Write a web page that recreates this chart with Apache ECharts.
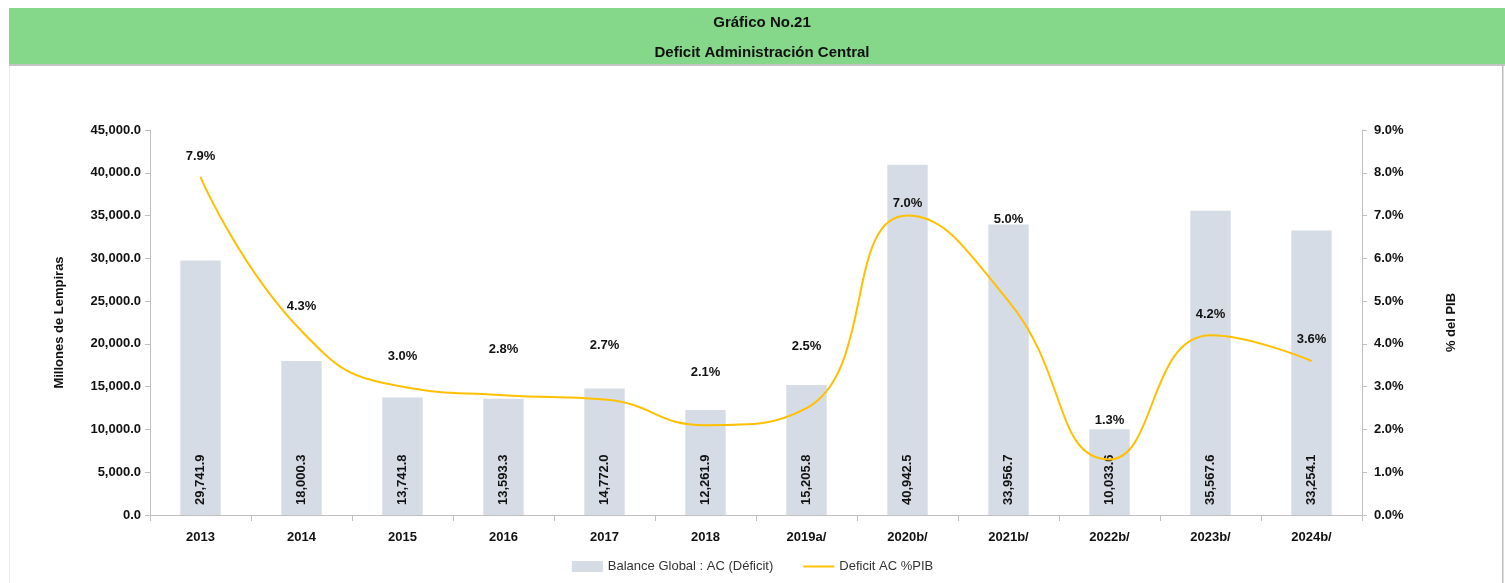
<!DOCTYPE html>
<html>
<head>
<meta charset="utf-8">
<script src="https://cdn.jsdelivr.net/npm/echarts@6/dist/echarts.min.js"></script>
<style>
  html, body { margin: 0; padding: 0; background: #fff; }
  #chart { width: 1505px; height: 583px; }
</style>
</head>
<body>
<div id="chart"></div>
<script>
// categorias (años)
const years = ['2013', '2014', '2015', '2016', '2017', '2018', '2019a/', '2020b/', '2021b/', '2022b/', '2023b/', '2024b/'];
// Balance Global : AC (Déficit), millones de lempiras
const balance = [29741.9, 18000.3, 13741.8, 13593.3, 14772.0, 12261.9, 15205.8, 40942.5, 33956.7, 10033.6, 35567.6, 33254.1];
// Deficit AC %PIB
const pctPib = [7.9, 4.3, 3.0, 2.8, 2.7, 2.1, 2.5, 7.0, 5.0, 1.3, 4.2, 3.6];
// distancia de la etiqueta % sobre la linea (como en el original)
const pctLabelGap = [14, 18, 23, 39, 47, 46, 55, 5, 75, 32, 14, 15];

const fmtNum = v => Number(v).toLocaleString('en-US', {minimumFractionDigits: 1, maximumFractionDigits: 1});
const axisFont = 'Liberation Sans';

const chart = echarts.init(document.getElementById('chart'));

const option = {
    backgroundColor: '#fff',
    animation: false,
    graphic: [
        // banda verde del titulo
        { type: 'rect', shape: { x: 9, y: 8, width: 1496, height: 56 }, style: { fill: '#85D789' }, z: -10 },
        { type: 'rect', shape: { x: 9, y: 64, width: 1496, height: 2 }, style: { fill: '#C4C4C4' }, z: -10 },
        // bordes del area
        { type: 'rect', shape: { x: 9, y: 66, width: 1, height: 517 }, style: { fill: '#EDEDED' }, z: -10 },
        { type: 'rect', shape: { x: 1502, y: 64, width: 1.5, height: 519 }, style: { fill: '#BDBDBD' }, z: -10 }
    ],
    title: {
        text: 'Gráfico No.21\nDeficit Administración Central',
        left: 757,
        textAlign: 'center',
        top: 3,
        textStyle: {
            fontFamily: 'Liberation Sans Narrow, Liberation Sans',
            fontWeight: 'bold',
            fontSize: 15,
            lineHeight: 30,
            color: '#111'
        }
    },
    legend: {
        top: 555,
        left: 'center',
        itemWidth: 31,
        itemHeight: 11,
        itemGap: 30,
        textStyle: { fontFamily: axisFont, fontSize: 13, color: '#333' },
        data: [
            { name: 'Balance Global : AC (Déficit)', icon: 'rect' },
            { name: 'Deficit AC %PIB', icon: 'path://M0,0 H32 V2 H0 Z' }
        ]
    },
    grid: {
        left: 150,
        right: 143,
        top: 130,
        bottom: 68
    },
    xAxis: {
        type: 'category',
        data: years,
        axisLine: { lineStyle: { color: '#BFBFBF' } },
        axisTick: { show: true, length: 6, lineStyle: { color: '#BFBFBF' } },
        axisLabel: {
            margin: 16,
            fontFamily: axisFont,
            fontWeight: 'bold',
            fontSize: 13,
            color: '#111'
        }
    },
    yAxis: [
        {
            type: 'value',
            min: 0,
            max: 45000,
            interval: 5000,
            name: 'Millones de Lempiras',
            nameLocation: 'middle',
            nameGap: 84,
            nameTextStyle: { fontFamily: axisFont, fontWeight: 'bold', fontSize: 13, color: '#111' },
            axisLine: { show: true, lineStyle: { color: '#BFBFBF' } },
            axisTick: { show: true, length: 5, lineStyle: { color: '#BFBFBF' } },
            splitLine: { show: false },
            axisLabel: {
                margin: 9,
                fontFamily: axisFont,
                fontWeight: 'bold',
                fontSize: 13,
                color: '#111',
                formatter: v => fmtNum(v)
            }
        },
        {
            type: 'value',
            min: 0,
            max: 9,
            interval: 1,
            position: 'right',
            name: '% del PIB',
            nameLocation: 'middle',
            nameGap: 83,
            nameRotate: 90,
            nameTextStyle: { fontFamily: axisFont, fontWeight: 'bold', fontSize: 13, color: '#111' },
            axisLine: { show: true, lineStyle: { color: '#BFBFBF' } },
            axisTick: { show: true, length: 5, lineStyle: { color: '#BFBFBF' } },
            splitLine: { show: false },
            axisLabel: {
                margin: 12,
                fontFamily: axisFont,
                fontWeight: 'bold',
                fontSize: 13,
                color: '#111',
                formatter: v => v.toFixed(1) + '%'
            }
        }
    ],
    series: [
        {
            name: 'Balance Global : AC (Déficit)',
            type: 'bar',
            yAxisIndex: 0,
            barWidth: '40%',
            data: balance,
            itemStyle: { color: '#D6DCE5' },
            label: {
                show: true,
                position: 'insideBottom',
                rotate: 90,
                align: 'left',
                verticalAlign: 'middle',
                distance: 10,
                fontFamily: axisFont,
                fontWeight: 'bold',
                fontSize: 13,
                color: '#111',
                formatter: p => fmtNum(p.value)
            },
            z: 1
        },
        {
            name: 'Deficit AC %PIB',
            type: 'line',
            yAxisIndex: 1,
            smooth: 0.5,
            symbol: 'circle',
            symbolSize: 1,
            showSymbol: true,
            lineStyle: { color: '#FFC000', width: 2 },
            itemStyle: { color: '#FFC000' },
            data: pctPib.map((v, i) => ({
                value: v,
                label: { distance: pctLabelGap[i] }
            })),
            label: {
                show: true,
                position: 'top',
                fontFamily: axisFont,
                fontWeight: 'bold',
                fontSize: 13,
                color: '#111',
                formatter: p => Number(p.value).toFixed(1) + '%'
            },
            z: 3
        }
    ]
};

chart.setOption(option);
</script>
</body>
</html>
